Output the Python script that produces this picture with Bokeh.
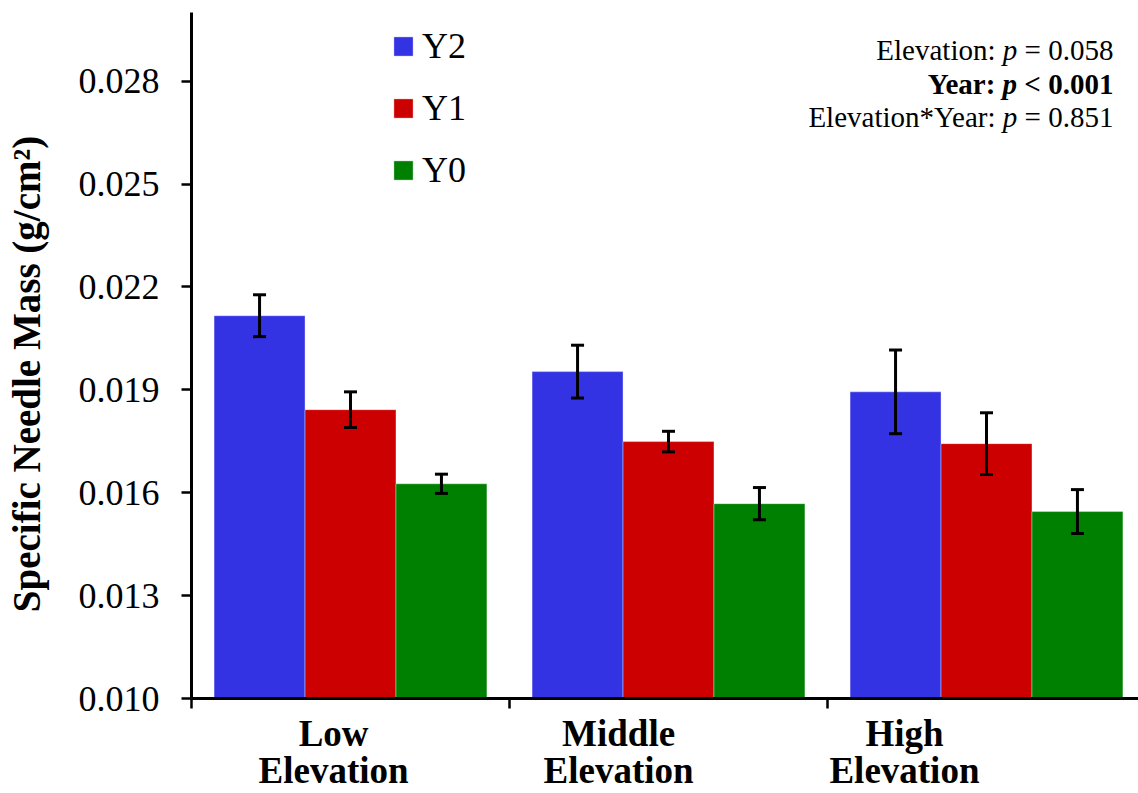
import numpy as np
from bokeh.plotting import figure
from bokeh.models import (Range1d, FixedTicker, Whisker, TeeHead, ColumnDataSource,
                          Label, Legend, LegendItem, LinearAxis)
from bokeh.embed import file_html
from bokeh.resources import INLINE

# ---------------- data ----------------
categories = ["Low", "Middle", "High"]
category_line2 = ["Elevation", "Elevation", "Elevation"]
series = ["Y2", "Y1", "Y0"]
y2_mean = [0.02116, 0.01953, 0.01894]
y2_err = [0.00061, 0.00077, 0.00122]
y1_mean = [0.01842, 0.01749, 0.01743]
y1_err = [0.00052, 0.00030, 0.00090]
y0_mean = [0.01626, 0.01568, 0.01545]
y0_err = [0.00028, 0.00047, 0.00064]
y_ticks = [0.010, 0.013, 0.016, 0.019, 0.022, 0.025, 0.028]
y_tick_labels = ["0.010", "0.013", "0.016", "0.019", "0.022", "0.025", "0.028"]
y_title = "Specific Needle Mass (g/cm\u00b2)"
stats_lines = [
    ("Elevation:", "p", "= 0.058", False),
    ("Year:", "p", "< 0.001", True),
    ("Elevation*Year:", "p", "= 0.851", False),
]

colors = ["#3333E3", "#CC0000", "#008000"]
FONT = "Liberation Serif"

W, H = 1138, 793
p = figure(width=W, height=H, x_range=Range1d(0, 2.978), y_range=Range1d(0.010, 0.030),
           output_backend="svg", toolbar_location=None,
           min_border_left=191, min_border_right=0, min_border_top=12, min_border_bottom=95)
p.outline_line_color = None
p.grid.visible = False

# y axis
p.yaxis.ticker = FixedTicker(ticks=y_ticks)
p.yaxis.major_label_overrides = {t: l for t, l in zip(y_ticks, y_tick_labels)}
p.yaxis.axis_line_width = 3
p.yaxis.major_tick_line_width = 2.5
p.yaxis.major_tick_out = 10
p.yaxis.major_tick_in = 0
p.yaxis.minor_tick_line_color = None
p.yaxis.major_label_text_font = FONT
p.yaxis.major_label_text_font_size = "36px"
p.yaxis.major_label_text_color = "black"
p.yaxis.major_label_standoff = 22
p.yaxis.axis_line_color = "black"
p.yaxis.major_tick_line_color = "black"
# title text padded at its end so that it sits a little below the frame centre, like the reference
p.yaxis.axis_label = y_title + "\u00a0" * 3 + "\u2009"
p.yaxis.axis_label_text_font = FONT
p.yaxis.axis_label_text_font_style = "bold"
p.yaxis.axis_label_text_font_size = "39px"
p.yaxis.axis_label_text_color = "black"
p.yaxis.axis_label_standoff = 28

# x axis (group boundary ticks, no labels)
p.xaxis.ticker = FixedTicker(ticks=[0, 1, 2])
p.xaxis.major_label_overrides = {0: "", 1: "", 2: ""}
p.xaxis.major_label_text_font_size = "10px"
p.xaxis.major_label_standoff = 0
p.xaxis.axis_line_width = 3
p.xaxis.major_tick_line_width = 2.5
p.xaxis.major_tick_out = 10
p.xaxis.major_tick_in = 0
p.xaxis.minor_tick_line_color = None
p.xaxis.axis_line_color = "black"
p.xaxis.major_tick_line_color = "black"

centers = np.arange(len(categories)) + 0.5
label_shift = [-0.053, -0.157, -0.258]
label_pos = [round(float(c + s), 3) for c, s in zip(centers, label_shift)]

for texts, standoff in ((categories, 4), (category_line2, -7)):
    ax = LinearAxis(ticker=FixedTicker(ticks=label_pos),
                    major_label_overrides={x: t for x, t in zip(label_pos, texts)},
                    axis_line_color=None, major_tick_line_color=None, minor_tick_line_color=None,
                    major_tick_out=0, major_tick_in=0, major_label_standoff=standoff,
                    major_label_text_font=FONT, major_label_text_font_style="bold",
                    major_label_text_font_size="37px", major_label_text_color="black")
    p.add_layout(ax, "below")

# bars
bar_w = 0.286
offsets = [-bar_w, 0.0, bar_w]
renderers = []
for means, errs, off, col in zip([y2_mean, y1_mean, y0_mean], [y2_err, y1_err, y0_err], offsets, colors):
    means = np.array(means)
    errs = np.array(errs)
    src = ColumnDataSource(dict(x=centers + off, top=means, upper=means + errs, lower=means - errs))
    r = p.vbar(x="x", top="top", bottom=0.010, width=bar_w, source=src,
               fill_color=col, line_color="white", line_alpha=0.35, line_width=1)
    renderers.append(r)
    w = Whisker(base="x", upper="upper", lower="lower", source=src, line_width=3, line_color="black",
                upper_head=TeeHead(size=13, line_width=3, line_color="black"),
                lower_head=TeeHead(size=13, line_width=3, line_color="black"), level="overlay")
    p.add_layout(w)

# legend
legend = Legend(items=[LegendItem(label=s, renderers=[r]) for s, r in zip(series, renderers)],
                location=(200, 507), orientation="vertical", border_line_color=None,
                background_fill_alpha=0, padding=0, margin=0, spacing=20,
                glyph_width=24, glyph_height=24, label_standoff=7,
                label_text_font=FONT, label_text_font_size="36px", label_text_color="black")
p.add_layout(legend)

# statistics annotation (right aligned, mixed styles)
fs = 29
R = 2.899
baselines = [0.028903, 0.027912, 0.026951]
for (pre, pv, suf, bold), yb in zip(stats_lines, baselines):
    w_suf = (3320 if bold else 3314) * fs / 1000.0
    w_p = 500 * fs / 1000.0
    w_sp = 250 * fs / 1000.0
    st = "bold" if bold else "normal"
    p.add_layout(Label(x=R, y=yb, text=suf, text_align="right", text_baseline="alphabetic",
                       text_font=FONT, text_font_style=st, text_font_size=f"{fs}px", text_color="black"))
    p.add_layout(Label(x=R, y=yb, x_offset=-w_suf, text=pv, text_align="right", text_baseline="alphabetic",
                       text_font=FONT, text_font_style="bold italic" if bold else "italic",
                       text_font_size=f"{fs}px", text_color="black"))
    p.add_layout(Label(x=R, y=yb, x_offset=-(w_suf + w_p + w_sp), text=pre, text_align="right",
                       text_baseline="alphabetic", text_font=FONT, text_font_style=st,
                       text_font_size=f"{fs}px", text_color="black"))

open("out.html", "w").write(file_html(p, INLINE))
